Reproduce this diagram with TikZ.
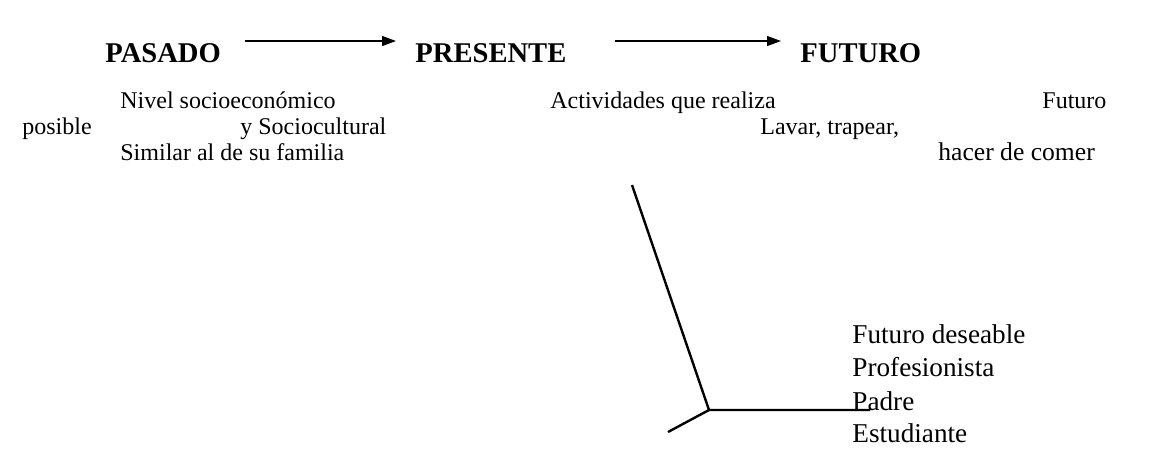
\documentclass[tikz,border=0pt]{standalone}
\usepackage{fontspec}
\setmainfont{Liberation Serif}
\usetikzlibrary{arrows.meta}

\begin{document}
\begin{tikzpicture}[x=0.5pt,y=-0.5pt,
  titulo/.style={anchor=base west, inner sep=0pt, font=\fontsize{14.3}{16}\selectfont\bfseries},
  texto/.style ={anchor=base west, inner sep=0pt, font=\fontsize{12}{14}\selectfont},
  grande/.style={anchor=base west, inner sep=0pt, font=\fontsize{13.6}{16}\selectfont},
  flecha/.style={line width=0.7pt, -{Triangle[length=7pt,width=5pt]}},
  trazo/.style ={line width=1.2pt}]
  \useasboundingbox (0,0) rectangle (1155,451);

  % titulos y flechas
  \node[titulo] (pasado)   at (105,62) {PASADO};
  \node[titulo] (presente) at (415,62) {PRESENTE};
  \node[titulo] (futuro)   at (800,62) {FUTURO};
  \coordinate (f1a) at (245,41); \coordinate (f1b) at (396,41);
  \coordinate (f2a) at (615,41); \coordinate (f2b) at (781,41);
  \draw[flecha] (f1a) -- (f1b);
  \draw[flecha] (f2a) -- (f2b);

  % renglones de texto
  \node[texto] (nivel)   at (120,108) {Nivel socioecon\'omico};
  \node[texto] (activ)   at (550,108) {Actividades que realiza};
  \node[texto] (fposib)  at (1042,108) {Futuro};
  \node[texto] (posible) at (22,134)  {posible};
  \node[texto] (socio)   at (240,134) {y Sociocultural};
  \node[texto] (lavar)   at (760,134) {Lavar, trapear,};
  \node[texto] (similar) at (120,160) {Similar al de su familia};
  \node[texto, font=\fontsize{12.8}{15}\selectfont] (hacer) at (938,160) {hacer de comer};

  % futuro deseable
  \node[grande] (fdes)  at (852,343) {Futuro deseable};
  \node[grande] (prof)  at (852,376) {Profesionista};
  \node[grande] (padre) at (852,410) {Padre};
  \node[grande] (estud) at (852,442) {Estudiante};

  % trazos
  \coordinate (t1) at (632,185);
  \coordinate (t2) at (709,410);
  \coordinate (t3) at (870,410);
  \coordinate (t4) at (668,432);
  \draw[trazo] (t1) -- (t2) -- (t3);
  \draw[trazo] (t2) -- (t4);
\end{tikzpicture}
\end{document}
